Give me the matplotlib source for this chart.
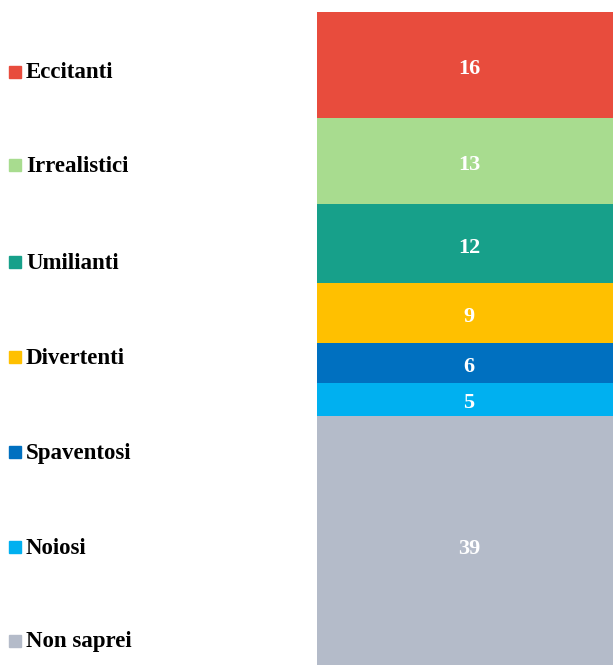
import matplotlib
matplotlib.use("Agg")
import matplotlib.pyplot as plt
from matplotlib.patches import Rectangle

# data (bottom -> top of the stack)
labels = ["Non saprei", "Noiosi", "Spaventosi", "Divertenti", "Umilianti", "Irrealistici", "Eccitanti"]
values = [39, 5, 6, 9, 12, 13, 16]
colors = ["#B4BBC9", "#00B0F0", "#0070C0", "#FFC000", "#17A08A", "#A8DC8F", "#E84C3D"]

plt.rcParams['font.family'] = ['Liberation Serif', 'DejaVu Serif']

W, H = 613, 665
fig = plt.figure(figsize=(W / 100, H / 100), dpi=100)

# bar axes: left edge at x=317, runs a bit past the right side and the bottom
ax = fig.add_axes([317 / W, -9 / H, (621 - 317) / W, (674 - 12) / H])
bottom = 0
for lab, v, c in zip(labels, values, colors):
    ax.bar(0, v, width=1, bottom=bottom, color=c, edgecolor="none")
    ax.annotate(str(v), (0, bottom + v / 2), xytext=(0, -3), textcoords="offset points",
                ha="center", va="center", color="white", fontsize=16, fontweight="bold")
    bottom += v
ax.set_xlim(-0.5, 0.5)
ax.set_ylim(0, sum(values))
ax.axis("off")

# legend on the left, top to bottom
leg_y = [73, 166, 263, 358, 453, 548, 642]
for lab, c, y in zip(labels[::-1], colors[::-1], leg_y):
    fig.patches.append(Rectangle((9 / W, 1 - (y + 5) / H), 12 / W, 12 / H,
                                 transform=fig.transFigure, color=c))
    fig.text(26 / W, 1 - y / H, lab, ha="left", va="center",
             fontsize=16.5, fontweight="bold", color="black")

fig.savefig("out.png", dpi=100)
